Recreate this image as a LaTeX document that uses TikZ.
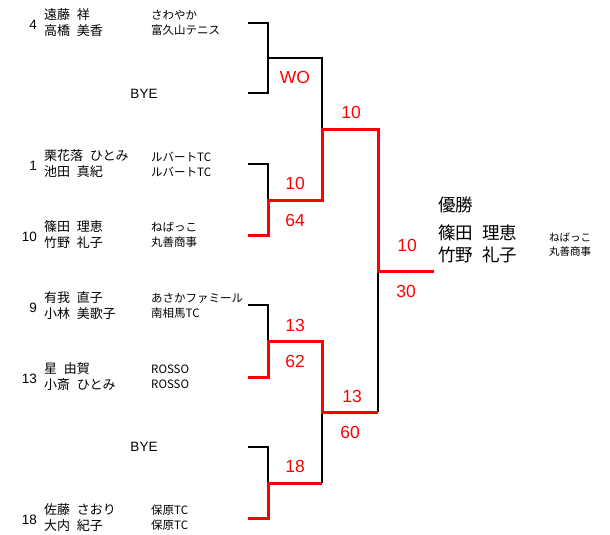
\documentclass[tikz,border=0pt]{standalone}
\usepackage{fontspec}
\setmainfont{Liberation Sans}
\newfontfamily\jp[WordSpace=2.3]{Noto Sans CJK JP}
\begin{document}
\begin{tikzpicture}[x=1pt,y=-1pt,
    pname/.style={anchor=west,inner sep=0pt,align=left,font=\jp\fontsize{13}{16}\selectfont},
    pclub/.style={anchor=west,inner sep=0pt,align=left,font=\jp\fontsize{11.5}{15}\selectfont},
    pseed/.style={anchor=east,inner sep=0pt,font=\fontsize{13.5}{16}\selectfont},
    score/.style={red,inner sep=0pt,font=\fontsize{17.5}{20}\selectfont},
    lose/.style={line width=1.9pt,black},
    win/.style={line width=3pt,red}]
    \useasboundingbox (0,0) rectangle (610,535);
    %% players
    \foreach \i/\y/\s/\n/\c in {
        1/23/4/{遠藤 祥\\高橋 美香}/{さわやか\\富久山テニス},
        3/164/1/{栗花落 ひとみ\\池田 真紀}/{ルバートTC\\ルバートTC},
        4/235/10/{篠田 理恵\\竹野 礼子}/{ねばっこ\\丸善商事},
        5/306/9/{有我 直子\\小林 美歌子}/{あさかファミール\\南相馬TC},
        6/377/13/{星 由賀\\小斎 ひとみ}/{ROSSO\\ROSSO},
        8/518/18/{佐藤 さおり\\大内 紀子}/{保原TC\\保原TC}}{
        \node[pseed] (seed\i) at (37,\y+2) {\s};
        \node[pname] (name\i) at (44,\y) {\n};
        \node[pclub] (club\i) at (151,\y) {\c};
    }
    \node[font=\fontsize{13.5}{16}\selectfont] (bye2) at (144,94) {BYE};
    \node[font=\fontsize{13.5}{16}\selectfont] (bye7) at (144,447) {BYE};
    %% bracket
    \draw[lose] (248,23) -- (268,23) -- (268,93) -- (248,93);
    \draw[lose] (268,58) -- (322,58) -- (322,129);
    \draw[lose] (248,164) -- (268,164) -- (268,200);
    \draw[lose] (248,305) -- (268,305) -- (268,341);
    \draw[lose] (248,447) -- (268,447) -- (268,483);
    \draw[lose] (322,483) -- (322,412);
    \draw[lose] (378,412) -- (378,271);
    \draw[win] (248,235) -- (268,235) -- (268,200) -- (322,200) -- (322,129) -- (378,129) -- (378,271) -- (434,271);
    \draw[win] (248,377) -- (268,377) -- (268,341) -- (322,341) -- (322,412) -- (378,412);
    \draw[win] (248,518) -- (268,518) -- (268,483) -- (322,483);
    %% scores
    \node[score] (sc1) at (295,77) {WO};
    \node[score] (sc2) at (295,183) {10};
    \node[score] (sc3) at (295,220) {64};
    \node[score] (sc4) at (295,325) {13};
    \node[score] (sc5) at (295,361) {62};
    \node[score] (sc6) at (295,466) {18};
    \node[score] (sc7) at (351,112) {10};
    \node[score] (sc8) at (352,396) {13};
    \node[score] (sc9) at (350,432) {60};
    \node[score] (sc10) at (407,245) {10};
    \node[score] (sc11) at (406,291) {30};
    %% champion
    \node[anchor=west,inner sep=0pt,font=\jp\fontsize{17.5}{22}\selectfont] (title) at (438,205) {優勝};
    \node[anchor=west,inner sep=0pt,align=left,font=\jp\fontsize{17.5}{22}\selectfont] (champ) at (438,244) {篠田 理恵\\竹野 礼子};
    \node[pclub,font=\jp\fontsize{10.5}{14}\selectfont] (champclub) at (549,245) {ねばっこ\\丸善商事};
\end{tikzpicture}
\end{document}
